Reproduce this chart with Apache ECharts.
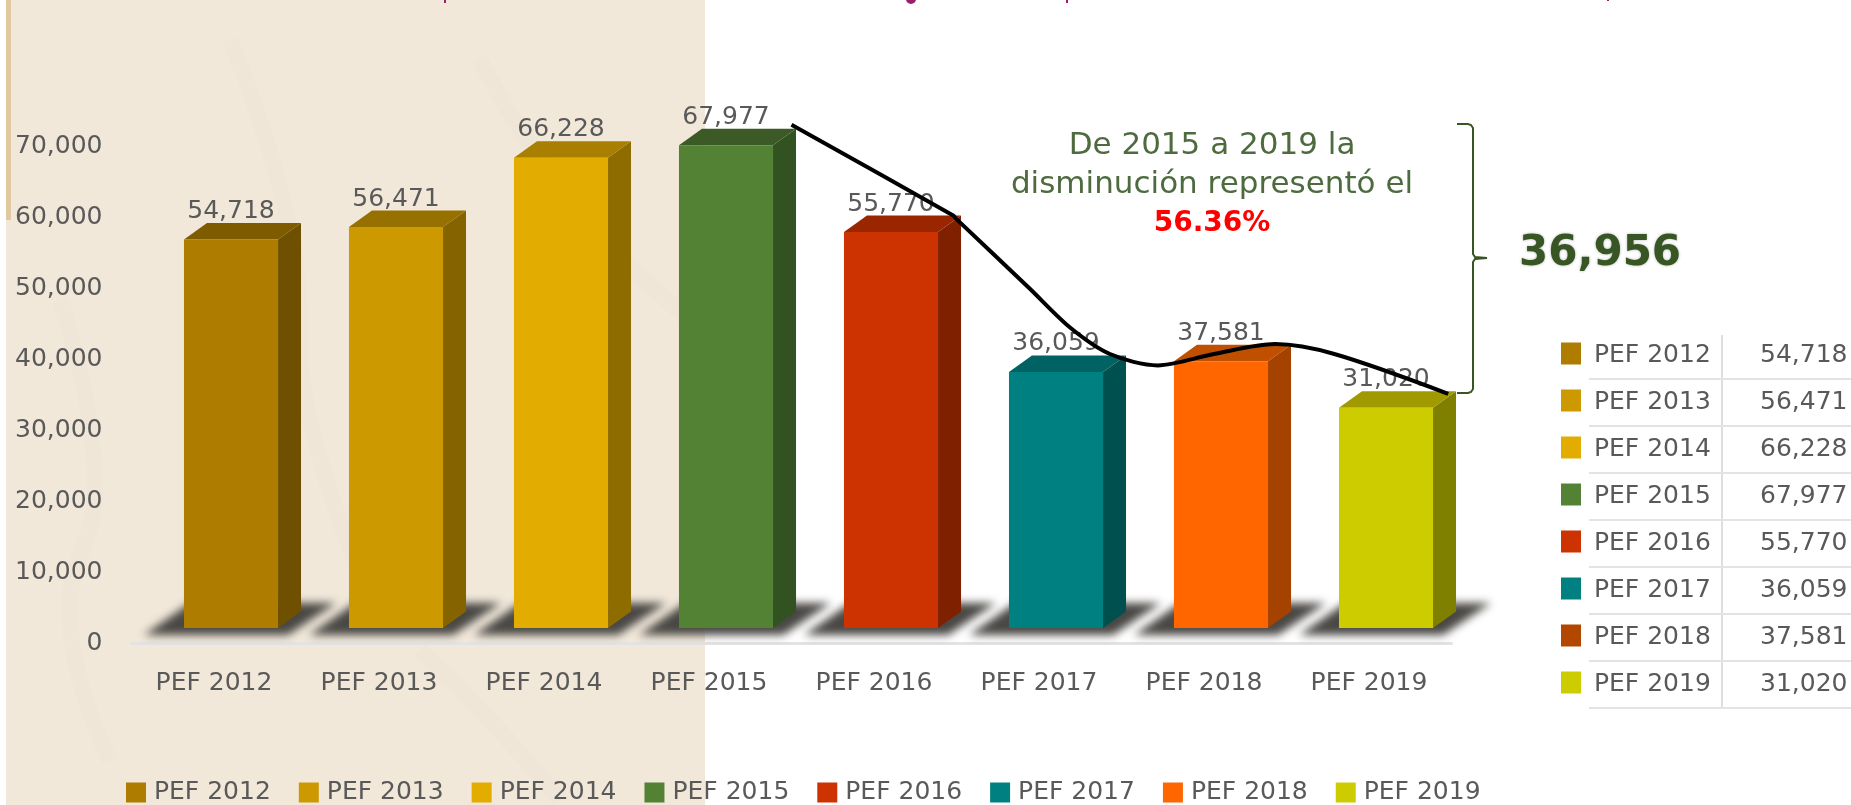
<!DOCTYPE html>
<html>
<head>
<meta charset="utf-8">
<title>PEF 2012-2019</title>
<script src="https://cdn.jsdelivr.net/npm/echarts@6/dist/echarts.min.js"></script>
<style>
  html, body { margin: 0; padding: 0; background: #fff; overflow: hidden; }
  .box { width: 1851px; height: 805px; }
</style>
</head>
<body>
<div class="box"></div>
<script>
  // data
  const categories = ["PEF 2012", "PEF 2013", "PEF 2014", "PEF 2015", "PEF 2016", "PEF 2017", "PEF 2018", "PEF 2019"];
  const values = [54718, 56471, 66228, 67977, 55770, 36059, 37581, 31020];
  const yTicks = [0, 10000, 20000, 30000, 40000, 50000, 60000, 70000];

  // the hand drawn curve, x in category slots, y in axis units
  const curveX = [4.0, 4.98, 5.0, 5.44, 5.69, 5.93, 6.22, 6.56, 6.93, 7.29, 7.98];
  const curveY = [73000, 60200, 59700, 50000, 44400, 40700, 39100, 40700, 42100, 40700, 35100];

  // colours, front / side / top
  const frontColors = ["#ae7d00", "#cc9900", "#e3ac00", "#548235", "#cc3300", "#008080", "#ff6600", "#cccc00"];
  const sideColors = ["#6f5000", "#856400", "#8f6c00", "#335222", "#7f2000", "#005050", "#a54200", "#808000"];
  const topColors = ["#7f5b00", "#977100", "#a87f00", "#3b5a26", "#9a2600", "#006262", "#c05000", "#a09a00"];
  const tableSwatches = ["#ae7d00", "#cc9900", "#e3ac00", "#548235", "#cc3300", "#008080", "#b34700", "#cccc00"];

  const labelFont = "DejaVu Sans";
  const labelColor = "#595959";

  function fmt(v) {
    return v.toLocaleString("en-US");
  }

  // one 3D looking bar: floor shadow, side, top, front and the value on top
  function renderBar(params, api) {
    const i = api.value(0);
    const v = api.value(1);
    const slot = api.size([1, 0])[0];
    const center = api.coord([i, 0])[0] + 17;
    const base = api.coord([i, 0])[1] - 15;
    const top = api.coord([i, v])[1] - 15;
    const w = slot * 0.57;
    const x0 = center - w / 2;
    const x1 = x0 + w;
    const dx = 23;
    const dy = 16.5;
    // the polygon sits off the page, only its blurred shadow lands on the floor
    const off = 3000;
    return {
      type: "group",
      children: [
        {
          type: "polygon",
          shape: { points: [[x0 - 40 - off, base + 7], [x1 + 10 - off, base + 7], [x1 + 58 - off, base - 25], [x0 + 6 - off, base - 25]] },
          style: { fill: "#4a4845", shadowBlur: 9, shadowColor: "#4a4845", shadowOffsetX: off }
        },
        {
          type: "polygon",
          shape: { points: [[x1, top], [x1 + dx, top - dy], [x1 + dx, base - dy], [x1, base]] },
          style: { fill: sideColors[i] }
        },
        {
          type: "polygon",
          shape: { points: [[x0, top], [x0 + dx, top - dy], [x1 + dx, top - dy], [x1, top]] },
          style: { fill: topColors[i] }
        },
        {
          type: "rect",
          shape: { x: x0, y: top, width: w, height: base - top },
          style: { fill: frontColors[i] }
        },
        {
          type: "text",
          x: center,
          y: top - 28,
          style: { text: fmt(v), fill: labelColor, font: "25px '" + labelFont + "'", align: "center", verticalAlign: "middle" }
        }
      ]
    };
  }

  const seriesList = categories.map((name, i) => ({
    name: name,
    type: "custom",
    xAxisIndex: 0,
    yAxisIndex: 0,
    itemStyle: { color: frontColors[i] },
    renderItem: renderBar,
    encode: { x: 0, y: 1 },
    data: [[i, values[i]]],
    z: 2
  }));

  seriesList.push({
    name: "curva",
    type: "line",
    xAxisIndex: 1,
    yAxisIndex: 0,
    smooth: 0.3,
    clip: false,
    symbol: "none",
    lineStyle: { color: "#000", width: 4 },
    data: curveX.map((x, i) => [x, curveY[i]]),
    z: 5
  });

  // background panel and the annotation around the curve
  const bgStroke = { fill: null, stroke: "#efe6d7", lineWidth: 16 };
  const graphicList = [
    { type: "rect", z: -10, shape: { x: 6, y: 0, width: 699, height: 805 }, style: { fill: "#f1e8da" } },
    { type: "rect", z: -9, shape: { x: 6, y: 0, width: 5, height: 220 }, style: { fill: "#e0c9a0" } },
    { type: "polyline", z: -9, shape: { smooth: 0.5, points: [[60, 300], [95, 480], [70, 620], [110, 760]] }, style: bgStroke },
    { type: "polyline", z: -9, shape: { smooth: 0.5, points: [[230, 40], [290, 230], [310, 420], [380, 620]] }, style: bgStroke },
    { type: "polyline", z: -9, shape: { smooth: 0.5, points: [[420, 650], [490, 720], [560, 800]] }, style: bgStroke },
    { type: "polyline", z: -9, shape: { smooth: 0.5, points: [[480, 60], [570, 200], [690, 320]] }, style: bgStroke },
    { type: "rect", shape: { x: 444, y: 0, width: 2, height: 3 }, style: { fill: "#9c1f6e" } },
    { type: "circle", shape: { cx: 911, cy: -1, r: 5 }, style: { fill: "#9c1f6e" } },
    { type: "rect", shape: { x: 1066, y: 0, width: 2, height: 3 }, style: { fill: "#9c1f6e" } },
    { type: "rect", shape: { x: 1607, y: 0, width: 2, height: 1 }, style: { fill: "#9c1f6e" } },
    {
      type: "polyline",
      shape: { points: [[1457, 124], [1468, 124], [1471, 125], [1473, 128], [1473, 254], [1475, 257], [1487, 258], [1475, 259], [1473, 262], [1473, 389], [1471, 392], [1468, 393], [1457, 393]] },
      style: { fill: null, stroke: "#375623", lineWidth: 2 }
    },
    { type: "text", x: 1212, y: 146, style: { text: "De 2015 a 2019 la", fill: "#4e6b3f", font: "31px 'DejaVu Sans'", align: "center", verticalAlign: "middle" } },
    { type: "text", x: 1212, y: 185, style: { text: "disminución representó el", fill: "#4e6b3f", font: "31px 'DejaVu Sans'", align: "center", verticalAlign: "middle" } },
    { type: "text", x: 1212, y: 224, style: { text: "56.36%", fill: "#ff0000", font: "bold 28px 'DejaVu Sans'", align: "center", verticalAlign: "middle" } },
    { type: "text", x: 1519, y: 254, style: { text: "36,956", fill: "#375623", font: "bold 42px 'DejaVu Sans'", align: "left", verticalAlign: "middle", textShadowColor: "rgba(0,0,0,0.3)", textShadowBlur: 3 } },
    { type: "rect", shape: { x: 1721, y: 335, width: 2, height: 373 }, style: { fill: "#dedede" } }
  ];

  // data table on the right, it runs off the page like in the slide
  categories.forEach((name, i) => {
    const y = 353.5 + 47 * i;
    graphicList.push(
      { type: "rect", shape: { x: 1561, y: y - 11, width: 20, height: 22 }, style: { fill: tableSwatches[i] } },
      { type: "text", x: 1594, y: y + 1.5, style: { text: name, fill: labelColor, font: "25px '" + labelFont + "'", verticalAlign: "middle" } },
      { type: "text", x: 1760, y: y + 1.5, style: { text: fmt(values[i]), fill: labelColor, font: "25px '" + labelFont + "'", verticalAlign: "middle" } },
      { type: "rect", shape: { x: 1589, y: y + 24.5, width: 262, height: 2 }, style: { fill: "#e3e3e3" } }
    );
  });

  const myChart = echarts.init(document.querySelector(".box"));

  const option = {
    animation: false,
    backgroundColor: "#fff",
    textStyle: { fontFamily: labelFont },
    grid: { left: 131.5, right: 399.5, top: 146, bottom: 162 },
    legend: {
      data: categories,
      left: 126,
      top: 780,
      icon: "rect",
      itemWidth: 20,
      itemHeight: 20,
      itemGap: 28,
      padding: 0,
      selectedMode: false,
      textStyle: { fontFamily: labelFont, fontSize: 25, color: labelColor, padding: [0, 0, 0, 3] }
    },
    xAxis: [
      {
        type: "category",
        data: categories,
        axisTick: { show: false },
        axisLine: { lineStyle: { color: "#e3e3e3", width: 3 } },
        axisLabel: { fontFamily: labelFont, fontSize: 25, color: labelColor, margin: 28 }
      },
      // hidden scale for the curve, same width as the category slots
      { type: "value", min: 0, max: 8, show: false }
    ],
    yAxis: [{
      type: "value",
      min: yTicks[0],
      max: yTicks[yTicks.length - 1],
      interval: 10000,
      axisLine: { show: false },
      axisTick: { show: false },
      splitLine: { show: false },
      axisLabel: { fontFamily: labelFont, fontSize: 25, color: labelColor, margin: 29, formatter: v => fmt(v) }
    }],
    graphic: graphicList,
    series: seriesList
  };

  myChart.setOption(option);
</script>
</body>
</html>
